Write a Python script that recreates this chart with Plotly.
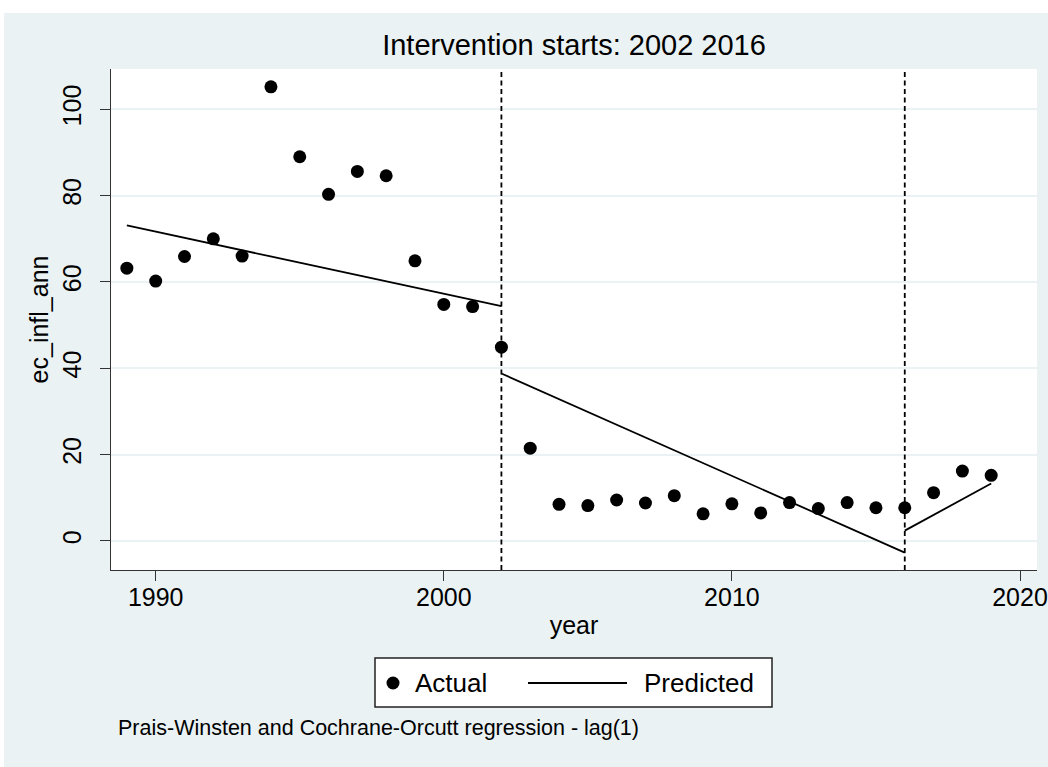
import plotly.graph_objects as go

# ---- data ----
years = list(range(1989, 2020))
actual = [63.2, 60.2, 65.9, 70.0, 66.0, 105.2, 89.0, 80.3, 85.6, 84.6, 64.9, 54.8, 54.3,
          44.9, 21.5, 8.5, 8.2, 9.5, 8.8, 10.5, 6.3, 8.6, 6.5, 8.9, 7.5, 8.9, 7.7, 7.7,
          11.2, 16.2, 15.2]

pred_years_1 = [1989, 2002]
pred_vals_1 = [73.1, 54.4]
pred_years_2 = [2002, 2016]
pred_vals_2 = [38.8, -2.7]
pred_years_3 = [2016, 2019]
pred_vals_3 = [2.4, 13.3]

intervention_years = [2002, 2016]
x_ticks = [1990, 2000, 2010, 2020]
y_ticks = [0, 20, 40, 60, 80, 100]

series_names = ["Actual", "Predicted"]
title_text = "Intervention starts: 2002 2016"
note_text = "Prais-Winsten and Cochrane-Orcutt regression - lag(1)"

# ---- styling ----
FONT = "Liberation Sans, Arial, Helvetica, sans-serif"
BG = "#EAF2F3"
W, H = 1048, 767
L, R, T, B = 111, 11, 69, 197
PW = W - L - R
PH = H - T - B

pred_x = pred_years_1 + [None] + pred_years_2 + [None] + pred_years_3
pred_y = pred_vals_1 + [None] + pred_vals_2 + [None] + pred_vals_3

fig = go.Figure()
fig.add_trace(go.Scatter(
    x=years, y=actual, mode="markers", name=series_names[0], showlegend=False,
    marker=dict(size=13, color="black", line=dict(width=0)),
))
fig.add_trace(go.Scatter(
    x=pred_x, y=pred_y, mode="lines", name=series_names[1], showlegend=False,
    line=dict(color="black", width=1.8), connectgaps=False,
))

def py(ypix):
    return (H - B - ypix) / PH

def px(xpix):
    return (xpix - L) / PW

shapes = [
    dict(type="rect", xref="paper", yref="paper", x0=px(-5), x1=px(W + 5),
         y0=py(13), y1=py(-5), fillcolor="white", line=dict(width=0), layer="below"),
    dict(type="rect", xref="paper", yref="paper", x0=px(-5), x1=px(4),
         y0=py(H + 5), y1=py(-5), fillcolor="white", line=dict(width=0), layer="below"),
]
for yr in intervention_years:
    shapes.append(dict(type="line", xref="x", yref="paper", x0=yr, x1=yr, y0=0, y1=1,
                       line=dict(color="black", width=1.8, dash="5px,3.5px"), layer="above"))

# legend box (drawn by hand to match the reference key layout)
LEG_Y = 683
shapes += [
    dict(type="rect", xref="paper", yref="paper", x0=px(375), x1=px(772),
         y0=py(707), y1=py(658), fillcolor="white", line=dict(color="#222", width=1.5)),
    dict(type="circle", xref="paper", yref="paper", xsizemode="pixel", ysizemode="pixel",
         xanchor=px(393), yanchor=py(LEG_Y), x0=-6.5, x1=6.5, y0=-6.5, y1=6.5,
         fillcolor="black", line=dict(width=0)),
    dict(type="line", xref="paper", yref="paper", x0=px(528), x1=px(627),
         y0=py(LEG_Y), y1=py(LEG_Y), line=dict(color="black", width=1.8)),
]

annotations = [
    dict(text=note_text, xref="paper", yref="paper", x=px(116), xanchor="left",
         y=py(728), yanchor="middle", showarrow=False,
         font=dict(size=21.5, color="black", family=FONT)),
    dict(text=series_names[0], xref="paper", yref="paper", x=px(413), xanchor="left",
         y=py(LEG_Y), yanchor="middle", showarrow=False,
         font=dict(size=26, color="black", family=FONT)),
    dict(text=series_names[1], xref="paper", yref="paper", x=px(642), xanchor="left",
         y=py(LEG_Y), yanchor="middle", showarrow=False,
         font=dict(size=26, color="black", family=FONT)),
]

fig.update_layout(
    width=W, height=H,
    margin=dict(l=L, r=R, t=T, b=B, autoexpand=False),
    paper_bgcolor=BG, plot_bgcolor="white",
    font=dict(family=FONT, color="black", size=25),
    title=dict(text=title_text, x=574 / W, xanchor="center",
               y=1 - 45 / H, yanchor="middle", yref="container",
               font=dict(size=29, color="black", family=FONT)),
    showlegend=False,
    xaxis=dict(range=[1988.449, 2020.59], tickmode="array", tickvals=x_ticks,
               ticks="outside", ticklen=10, tickwidth=1, tickcolor="#333",
               showline=True, linecolor="#333", linewidth=1.2, showgrid=False,
               zeroline=False, tickfont=dict(size=25), ticklabelstandoff=-5,
               title=dict(text="year", font=dict(size=25), standoff=6)),
    yaxis=dict(range=[-6.72, 109.33], tickmode="array", tickvals=y_ticks,
               ticks="outside", ticklen=10, tickwidth=1, tickcolor="#333",
               showline=True, linecolor="#333", linewidth=1.2,
               showgrid=True, gridcolor=BG, gridwidth=2, zeroline=False,
               tickangle=-90, tickfont=dict(size=25), ticklabelstandoff=9,
               title=dict(text="ec_infl_ann", font=dict(size=25), standoff=2)),
    shapes=shapes,
    annotations=annotations,
)

fig.write_html("out.html", config={"displayModeBar": False},
               post_script="document.body.style.margin='0';document.body.style.padding='0';")
